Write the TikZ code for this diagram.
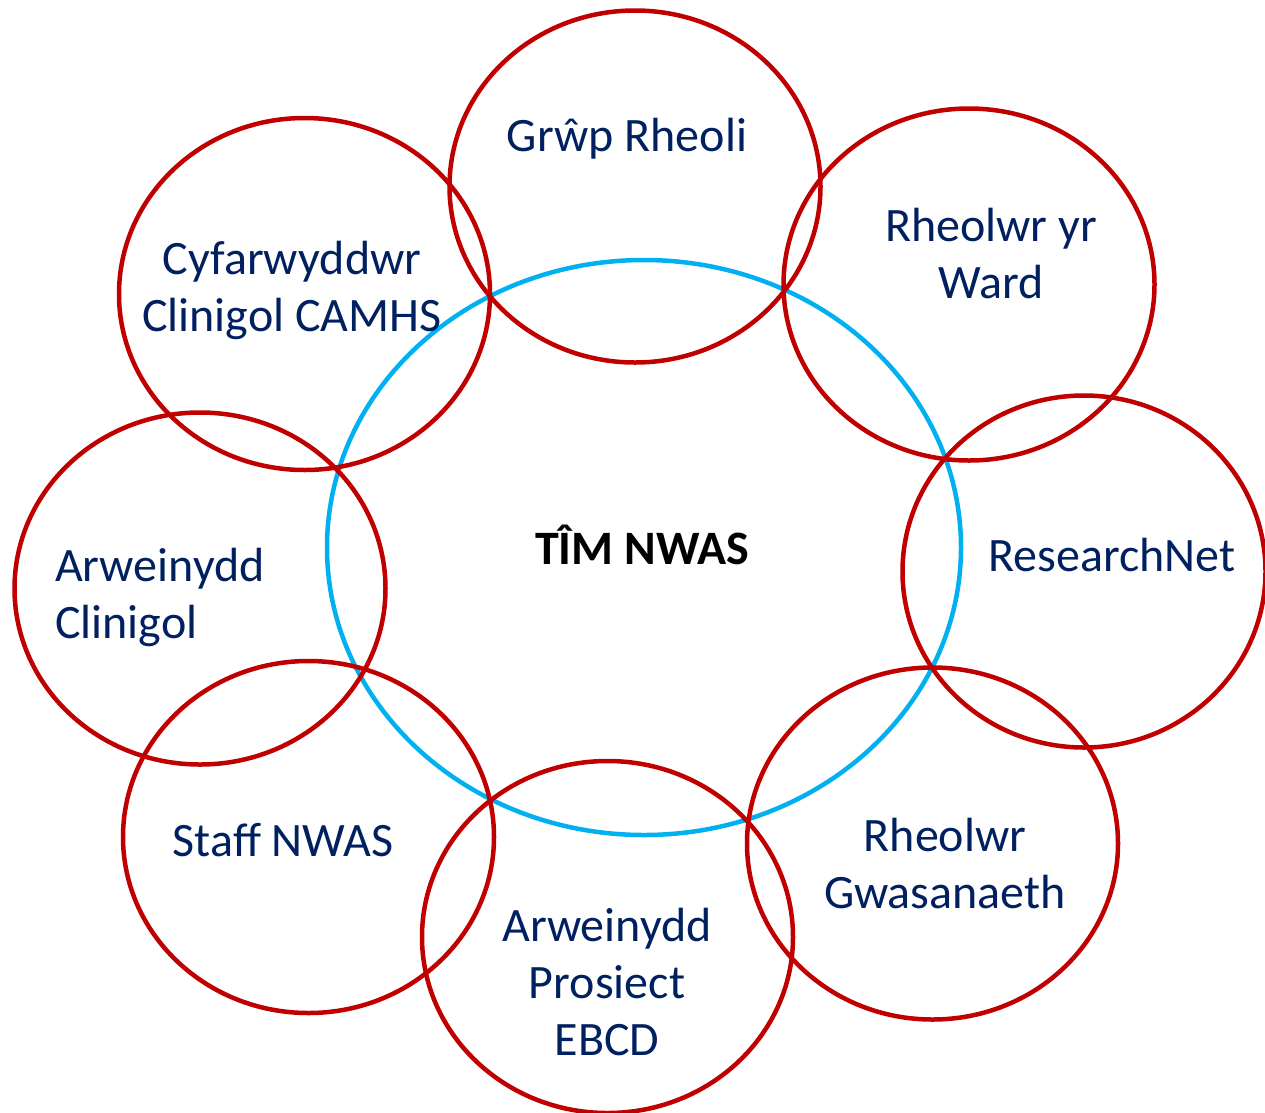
\documentclass[tikz,border=0pt]{standalone}
\usepackage{fontspec}
\setmainfont{Carlito}
\usetikzlibrary{shapes.geometric}
\definecolor{navy}{HTML}{002060}
\definecolor{darkred}{HTML}{C00000}
\definecolor{skyblue}{HTML}{00B0F0}
\tikzset{
  redcirc/.style={ellipse, draw=darkred, line width=4.5pt, minimum width=371pt, minimum height=352pt, inner sep=0pt},
  bluecirc/.style={ellipse, draw=skyblue, line width=4.5pt, minimum width=634pt, minimum height=575pt, inner sep=0pt},
  lbl/.style={text=navy, font=\fontsize{48}{57}\selectfont, inner sep=0pt, anchor=base, align=center},
  lbll/.style={text=navy, font=\fontsize{48}{57}\selectfont, inner sep=0pt, anchor=base west, align=left},
  title/.style={text=black, font=\fontsize{48}{57}\selectfont\bfseries, inner sep=0pt, anchor=base}
}
\begin{document}
\begin{tikzpicture}[x=1pt,y=-1pt]
\useasboundingbox (0,0) rectangle (1265,1112);
\node[bluecirc] (tim) at (644,547.5) {};
\node[redcirc] (grwp) at (635,186.5) {};
\node[redcirc] (ward) at (969,284.5) {};
\node[redcirc, minimum width=363pt] (rnet) at (1084,571.5) {};
\node[redcirc] (gwas) at (932.5,843.5) {};
\node[redcirc] (ebcd) at (607.5,937) {};
\node[redcirc] (staff) at (308.5,837) {};
\node[redcirc] (arw) at (200,588.5) {};
\node[redcirc] (cyf) at (304.5,294) {};
\node[title] (timt) at (642,564) {TÎM NWAS};
\node[lbl] (grwpt) at (627,151) {Grŵp Rheoli};
\node[lbl] (wardt) at (991,298) {Rheolwr yr\\Ward};
\node[lbl] (rnett) at (1112,571) {ResearchNet};
\node[lbl] (gwast) at (945,908) {Rheolwr\\Gwasanaeth};
\node[lbl] (ebcdt) at (607,1055) {Arweinydd\\Prosiect\\EBCD};
\node[lbl] (stafft) at (283,856) {Staff NWAS};
\node[lbll] (arwt) at (55,638) {Arweinydd\\Clinigol};
\node[lbl] (cyft) at (292,331) {Cyfarwyddwr\\Clinigol CAMHS};
\end{tikzpicture}
\end{document}
